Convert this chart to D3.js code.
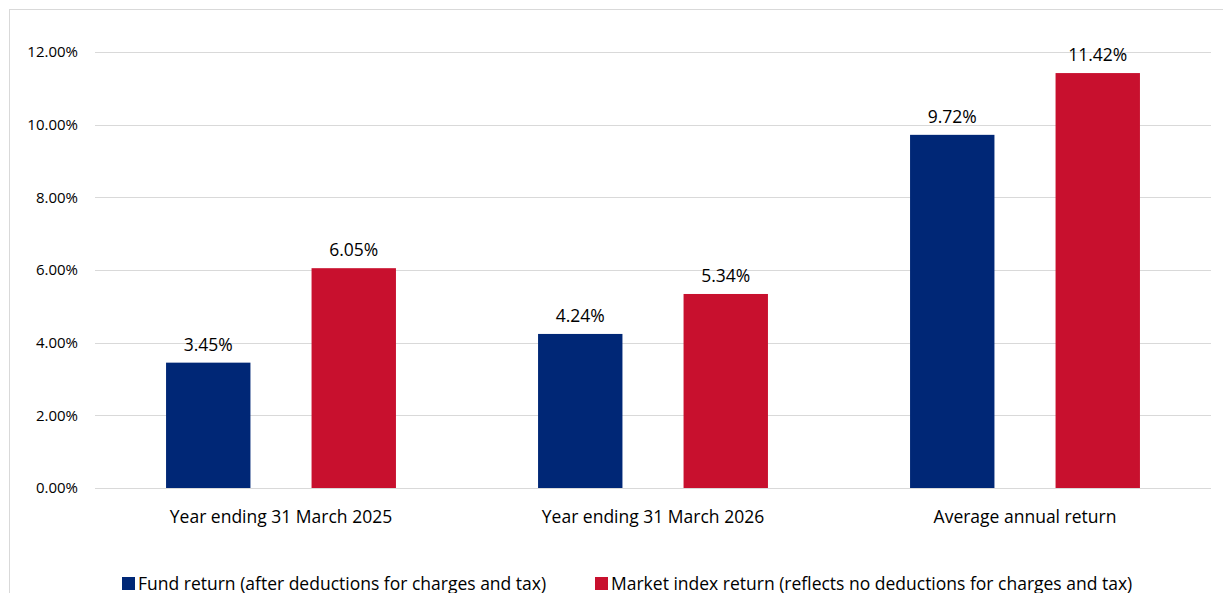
<!DOCTYPE html>
<html>
<head>
<meta charset="utf-8">
<script src="https://cdn.jsdelivr.net/npm/d3@7"></script>
<style>
  body { margin: 0; background: #fff; }
  svg text { font-family: "Open Sans", Lato, sans-serif; fill: #000; }
</style>
</head>
<body>
<svg id="chart" width="1223" height="593"></svg>
<script>
const categories = ["Year ending 31 March 2025", "Year ending 31 March 2026", "Average annual return"];
const seriesNames = ["Fund return (after deductions for charges and tax)", "Market index return (reflects no deductions for charges and tax)"];
const fundValues = [3.45, 4.24, 9.72];
const marketValues = [6.05, 5.34, 11.42];
const yTicks = [0, 2, 4, 6, 8, 10, 12];
const colors = ["#002776", "#C8102E"];

const svg = d3.select("#chart");
const width = 1223, height = 593;

// outer frame
svg.append("rect")
  .attr("x", 9.5).attr("y", 9.5)
  .attr("width", width + 10).attr("height", height + 10)
  .attr("fill", "none").attr("stroke", "#d9d9d9");

const plot = { left: 95, right: 1211, top: 52, bottom: 488 };

const x0 = d3.scaleBand().domain(categories).range([plot.left, plot.right]).padding(0);
const x1 = d3.scaleBand().domain(seriesNames)
  .range([x0.bandwidth() * 0.191, x0.bandwidth() * 0.809])
  .paddingInner(0.42).paddingOuter(0);
const y = d3.scaleLinear().domain([0, 12]).range([plot.bottom, plot.top]);

// gridlines
svg.append("g").selectAll("line").data(yTicks).join("line")
  .attr("x1", plot.left).attr("x2", plot.right)
  .attr("y1", d => Math.round(y(d)) + 0.5).attr("y2", d => Math.round(y(d)) + 0.5)
  .attr("stroke", "#d9d9d9").attr("stroke-width", 1);

// y axis labels
const yAxis = svg.append("g").attr("transform", `translate(${plot.left - 17},0)`)
  .call(d3.axisLeft(y).tickValues(yTicks).tickFormat(d => d.toFixed(2) + "%").tickSize(0).tickPadding(0));
yAxis.select(".domain").remove();
yAxis.selectAll("text").attr("font-size", 15).attr("font-family", "'Open Sans', sans-serif").attr("fill", "#000");

// bars
const rows = categories.map((c, i) => ({ cat: c, vals: [fundValues[i], marketValues[i]] }));
const groups = svg.append("g").selectAll("g").data(rows).join("g")
  .attr("transform", d => `translate(${x0(d.cat)},0)`);

groups.selectAll("rect").data(d => d.vals.map((v, j) => ({ name: seriesNames[j], v, j })))
  .join("rect")
  .attr("x", d => x1(d.name))
  .attr("width", x1.bandwidth())
  .attr("y", d => y(d.v))
  .attr("height", d => y(0) - y(d.v))
  .attr("fill", d => colors[d.j]);

groups.selectAll("text.val").data(d => d.vals.map((v, j) => ({ name: seriesNames[j], v, j })))
  .join("text").attr("class", "val")
  .attr("x", d => x1(d.name) + x1.bandwidth() / 2)
  .attr("y", d => y(d.v) - 12)
  .attr("text-anchor", "middle")
  .attr("font-size", 17.5)
  .text(d => d.v.toFixed(2) + "%");

// x axis labels
svg.append("g").selectAll("text").data(categories).join("text")
  .attr("x", d => x0(d) + x0.bandwidth() / 2)
  .attr("y", plot.bottom + 35)
  .attr("text-anchor", "middle")
  .attr("font-size", 17.5)
  .text(d => d);

// legend
const legendX = [122, 595];
const legend = svg.append("g").selectAll("g").data(seriesNames).join("g")
  .attr("transform", (d, i) => `translate(${legendX[i]},577)`);
legend.append("rect").attr("width", 13).attr("height", 13).attr("fill", (d, i) => colors[i]);
legend.append("text").attr("x", 16).attr("y", 12.5).attr("font-size", 17.5).text(d => d);
</script>
</body>
</html>
